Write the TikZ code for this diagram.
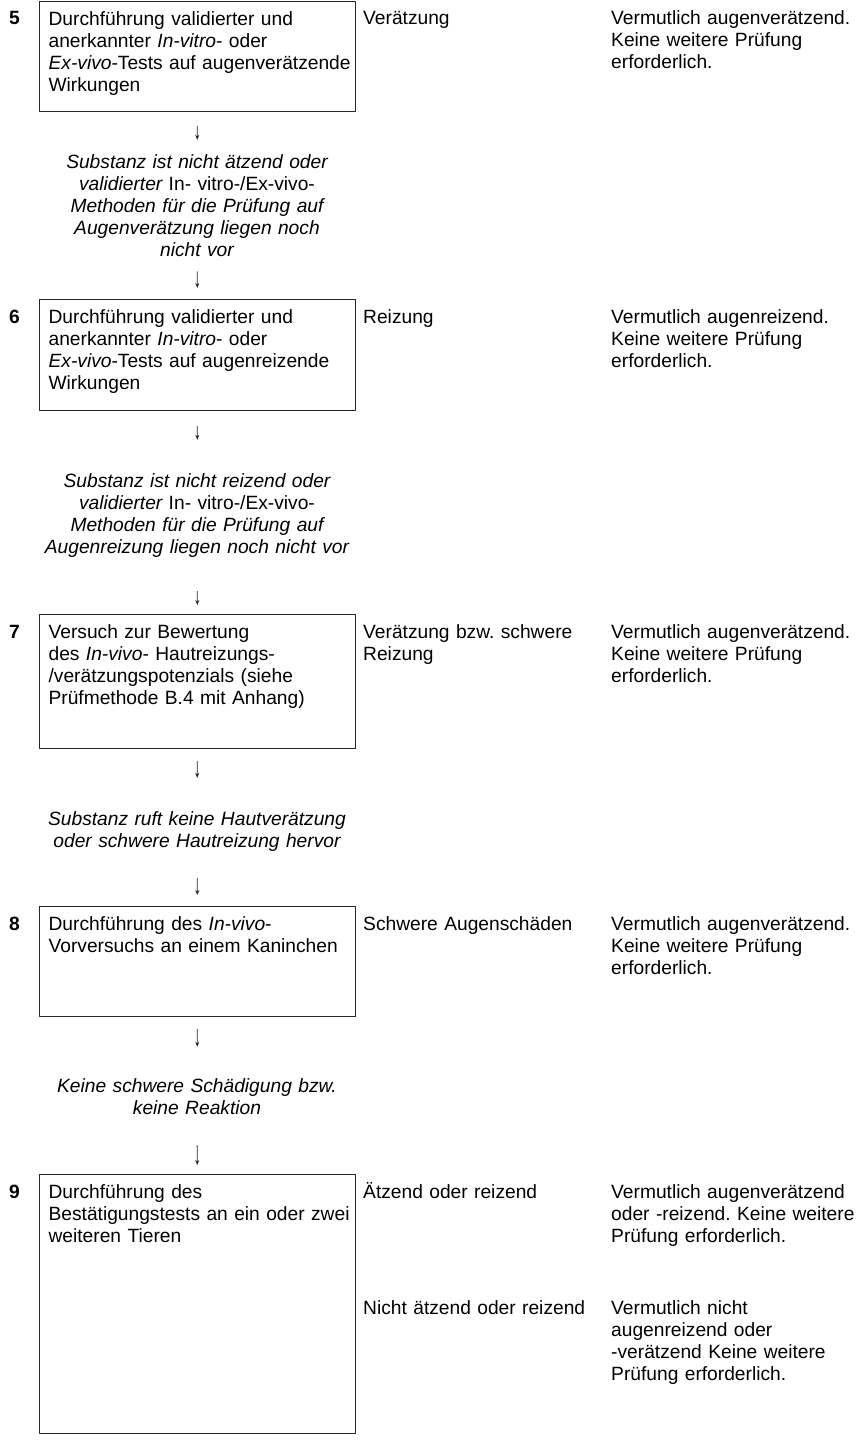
\documentclass[tikz,border=0pt]{standalone}
\usepackage{fontspec}
\setmainfont{Liberation Sans}
\frenchspacing
\usetikzlibrary{arrows.meta}

\begin{document}
\begin{tikzpicture}[x=1pt,y=-1pt,>={Stealth[length=5pt,width=4pt]},line join=round,
  every node/.style={font=\fontsize{19.2}{22}\selectfont,inner sep=0pt,text height=14pt},
  stepbox/.style={draw=black!85,line width=1.2pt,anchor=north west,text width=310pt,
    align=left,inner xsep=3pt,inner ysep=10pt,
    execute at begin node={\leftskip=6pt\hyphenpenalty=10000}},
  numlbl/.style={anchor=base west,font=\fontsize{19.2}{22}\selectfont\bfseries},
  result/.style={anchor=base west,text width=300pt,align=left,
    execute at begin node={\hyphenpenalty=10000}},
  cond/.style={anchor=base,text width=340pt,align=center,
    font=\fontsize{19.2}{22}\selectfont\itshape},
  flow/.style={->,line width=0.8pt,black!85}]
  \useasboundingbox (0,0) rectangle (866,1441);
  % step 5
  \node[stepbox,text depth=76pt] (S5) at (39,0.6) {Durchführung validierter und\\anerkannter \textit{In-vitro}- oder\\\textit{Ex-vivo}-Tests auf augenverätzende\\Wirkungen};
  \node[numlbl] (N5) at (9,24) {5};
  \node[result] (R5) at (363,24) {Verätzung};
  \node[result] (E5) at (611,24) {Vermutlich augenverätzend.\\Keine weitere Prüfung\\erforderlich.};
  \node[cond] (C5) at (197,168) {Substanz ist nicht ätzend oder\\validierter {\upshape In- vitro-/Ex-vivo-}\\Methoden für die Prüfung auf\\Augenverätzung liegen noch\\nicht vor};
  % step 6
  \node[stepbox,text depth=77pt] (S6) at (39,299) {Durchführung validierter und\\anerkannter \textit{In-vitro}- oder\\\textit{Ex-vivo}-Tests auf augenreizende\\Wirkungen};
  \node[numlbl] (N6) at (9,323) {6};
  \node[result] (R6) at (363,323) {Reizung};
  \node[result] (E6) at (611,323) {Vermutlich augenreizend.\\Keine weitere Prüfung\\erforderlich.};
  \node[cond] (C6) at (197,487) {Substanz ist nicht reizend oder\\validierter {\upshape In- vitro-/Ex-vivo-}\\Methoden für die Prüfung auf\\Augenreizung liegen noch nicht vor};
  % step 7
  \node[stepbox,text depth=100pt] (S7) at (39,614) {Versuch zur Bewertung\\des \textit{In-vivo}- Hautreizungs-\\/verätzungspotenzials (siehe\\Prüfmethode B.4 mit Anhang)};
  \node[numlbl] (N7) at (9,638) {7};
  \node[result] (R7) at (363,638) {Verätzung bzw. schwere\\Reizung};
  \node[result] (E7) at (611,638) {Vermutlich augenverätzend.\\Keine weitere Prüfung\\erforderlich.};
  \node[cond] (C7) at (197,825) {Substanz ruft keine Hautverätzung\\oder schwere Hautreizung hervor};
  % step 8
  \node[stepbox,text depth=76pt] (S8) at (39,906) {Durchführung des \textit{In-vivo}-\\Vorversuchs an einem Kaninchen};
  \node[numlbl] (N8) at (9,930) {8};
  \node[result] (R8) at (363,930) {Schwere Augenschäden};
  \node[result] (E8) at (611,930) {Vermutlich augenverätzend.\\Keine weitere Prüfung\\erforderlich.};
  \node[cond] (C8) at (197,1092) {Keine schwere Schädigung bzw.\\keine Reaktion};
  % step 9
  \node[stepbox,text depth=225pt] (S9) at (39,1174) {Durchführung des\\Bestätigungstests an ein oder zwei\\weiteren Tieren};
  \node[numlbl] (N9) at (9,1198) {9};
  \node[result] (R9a) at (363,1198) {Ätzend oder reizend};
  \node[result] (E9a) at (611,1198) {Vermutlich augenverätzend\\oder -reizend. Keine weitere\\Prüfung erforderlich.};
  \node[result] (R9b) at (363,1314) {Nicht ätzend oder reizend};
  \node[result] (E9b) at (611,1314) {Vermutlich nicht\\augenreizend oder\\-verätzend Keine weitere\\Prüfung erforderlich.};
  % arrows
  \draw[flow,shorten <=14pt,shorten >=14pt] (S5) -- (C5);
  \draw[flow,shorten <=15pt,shorten >=11pt] (C5) -- (S6);
  \draw[flow,shorten <=15pt,shorten >=33pt] (S6) -- (C6);
  \draw[flow,shorten <=34pt,shorten >=9pt] (C6) -- (S7);
  \draw[flow,shorten <=12pt,shorten >=33pt] (S7) -- (C7);
  \draw[flow,shorten <=27pt,shorten >=11pt] (C7) -- (S8);
  \draw[flow,shorten <=12pt,shorten >=31pt] (S8) -- (C8);
  \draw[flow,shorten <=31pt,shorten >=9pt] (C8) -- (S9);
\end{tikzpicture}
\end{document}
